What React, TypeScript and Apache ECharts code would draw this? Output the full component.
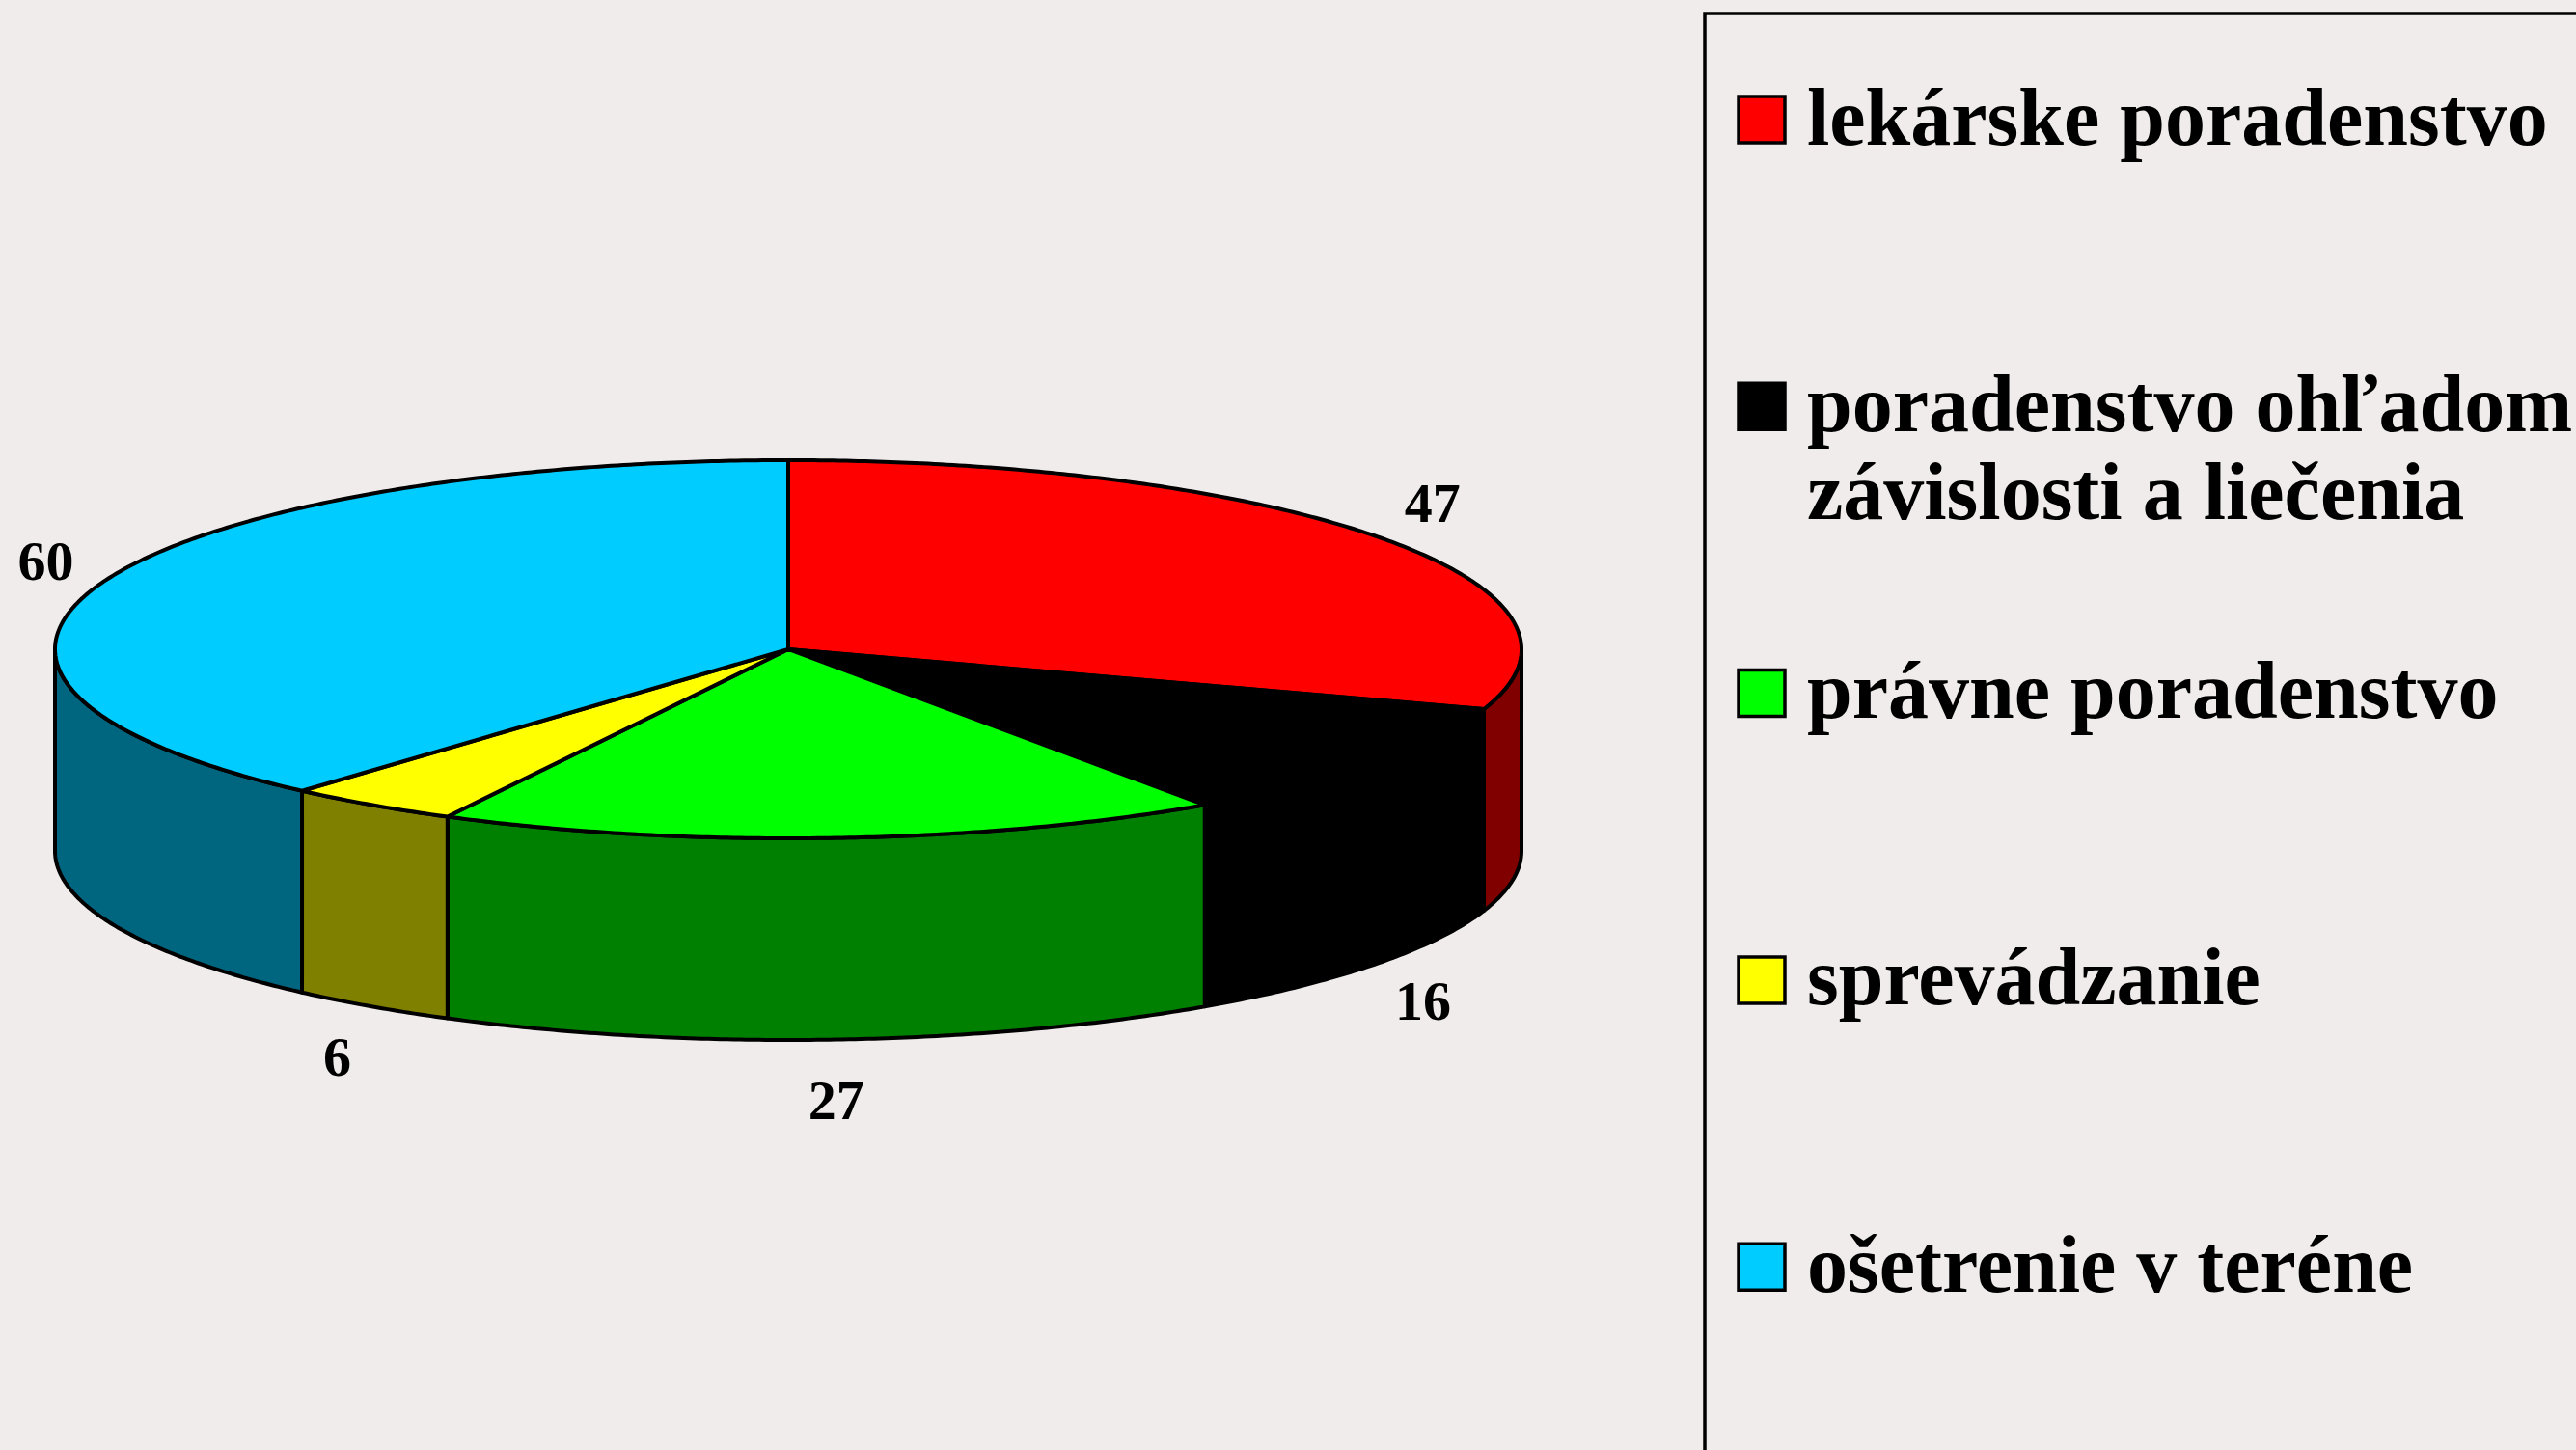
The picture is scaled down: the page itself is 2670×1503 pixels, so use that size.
import { useEffect, useRef } from 'react';
import * as echarts from 'echarts';

// ---- data ----
const categories = [
  'lekárske poradenstvo',
  'poradenstvo ohľadom\nzávislosti a liečenia',
  'právne poradenstvo',
  'sprevádzanie',
  'ošetrenie v teréne',
];
const values = [47, 16, 27, 6, 60];
const topColors = ['#ff0000', '#000000', '#00ff00', '#ffff00', '#00ccff'];
const sideColors = ['#800000', '#000000', '#008000', '#808000', '#006680'];

// ---- layout ----
const W = 2670;
const H = 1503;
const BG = '#f0eceb';
const PIE = { cx: 817, cy: 673, rx: 760, ry: 196, depth: 209, labelGap: 63, stroke: 4 };
const FONT = '"Liberation Serif", "Times New Roman", serif';

const total = values.reduce((a, b) => a + b, 0);
const starts: number[] = [];
{
  let acc = 0;
  values.forEach((v) => {
    starts.push((acc / total) * 360);
    acc += v;
  });
}

function pt(deg: number, dy = 0): number[] {
  const r = (deg * Math.PI) / 180;
  return [PIE.cx + PIE.rx * Math.sin(r), PIE.cy - PIE.ry * Math.cos(r) + dy];
}
function arc(a0: number, a1: number, dy: number): number[][] {
  const n = Math.max(2, Math.ceil((a1 - a0) / 0.5));
  const pts: number[][] = [];
  for (let i = 0; i <= n; i++) pts.push(pt(a0 + ((a1 - a0) * i) / n, dy));
  return pts;
}

function renderItem(params: any, api: any) {
  const i = params.dataIndex;
  const v = api.value(0);
  const a0 = starts[i];
  const a1 = a0 + (v / total) * 360;
  const children: any[] = [];
  const f0 = Math.max(a0, 90);
  const f1 = Math.min(a1, 270);
  if (f1 > f0) {
    const top = arc(f0, f1, 0);
    const bot = arc(f0, f1, PIE.depth).reverse();
    children.push({
      type: 'polygon',
      shape: { points: top.concat(bot) },
      style: { fill: sideColors[i], stroke: '#000', lineWidth: PIE.stroke, lineJoin: 'round' },
    });
  }
  children.push({
    type: 'polygon',
    shape: { points: [[PIE.cx, PIE.cy]].concat(arc(a0, a1, 0)) },
    style: { fill: topColors[i], stroke: '#000', lineWidth: PIE.stroke, lineJoin: 'round' },
  });
  const mid = ((a0 + a1) / 2) * Math.PI / 180;
  const s = Math.sin(mid);
  const c = Math.cos(mid);
  const lx = PIE.cx + (PIE.rx + PIE.labelGap) * s;
  const ly = PIE.cy - (PIE.ry + PIE.labelGap) * c + (c < 0 ? PIE.depth : 0);
  children.push({
    type: 'text',
    style: {
      text: String(v),
      x: lx,
      y: ly,
      align: 'center',
      verticalAlign: 'middle',
      fill: '#000',
      fontSize: 58,
      fontWeight: 'bold',
      fontFamily: FONT,
    },
  });
  return { type: 'group', children };
}

const LEG = { boxX: 1767, boxY: 14, swX: 1802, sw: 48, textX: 1873, y0: 124, step: 297.3, lineH: 91, fontSize: 84, textShift: -3 };

function legendGraphics() {
  const els: any[] = [
    {
      type: 'rect',
      shape: { x: LEG.boxX, y: LEG.boxY, width: 1200, height: 1700 },
      style: { fill: 'none', stroke: '#000', lineWidth: 3.5 },
      silent: true,
    },
  ];
  categories.forEach((name, i) => {
    const cy = LEG.y0 + i * LEG.step;
    els.push({
      type: 'rect',
      shape: { x: LEG.swX, y: cy - LEG.sw / 2, width: LEG.sw, height: LEG.sw },
      style: { fill: topColors[i], stroke: '#000', lineWidth: 3.5 },
      silent: true,
    });
    els.push({
      type: 'text',
      x: LEG.textX,
      y: cy - LEG.lineH / 2 + LEG.textShift,
      style: {
        text: name,
        fill: '#000',
        fontSize: LEG.fontSize,
        fontWeight: 'bold',
        fontFamily: FONT,
        lineHeight: LEG.lineH,
        align: 'left',
        verticalAlign: 'top',
      },
      silent: true,
    });
  });
  return els;
}

export default function App() {
  const ref = useRef<HTMLDivElement>(null);
  useEffect(() => {
    document.body.style.margin = '0';
    document.body.style.background = BG;
    const chart = echarts.init(ref.current as HTMLDivElement, undefined, { renderer: 'svg', width: W, height: H });
    chart.setOption({
      animation: false,
      backgroundColor: BG,
      series: [
        {
          type: 'custom',
          coordinateSystem: 'none',
          silent: true,
          renderItem,
          data: values.map((v, i) => ({ value: v, name: categories[i] })),
        },
      ],
      graphic: { elements: legendGraphics() },
    });
    return () => chart.dispose();
  }, []);
  return <div ref={ref} style={{ position: 'absolute', left: 0, top: 0, width: W, height: H }} />;
}
